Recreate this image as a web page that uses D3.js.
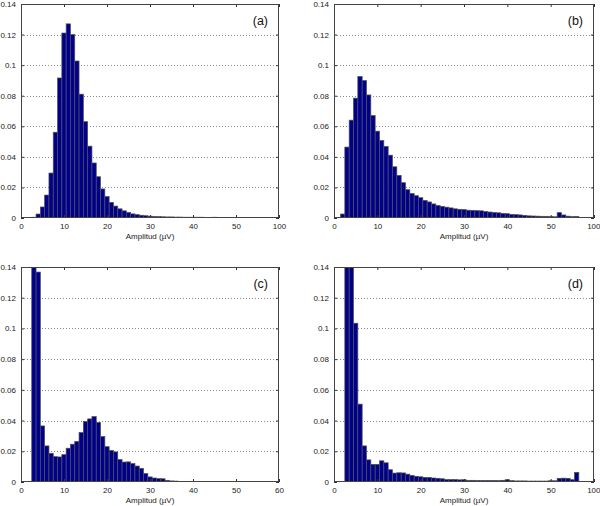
<!DOCTYPE html>
<html>
<head>
<meta charset="utf-8">
<script src="https://cdn.jsdelivr.net/npm/d3@7"></script>
<style>
  body { margin: 0; background: #fff; }
  svg text { font-family: "Liberation Sans", Arial, sans-serif; }
</style>
</head>
<body>
<div id="chart"></div>
<script>
// Histogram values, one per 1-µV bin, first value is bin centre 1
const histA = [0, 0, 0.0005, 0.0026, 0.0072, 0.015, 0.0294, 0.0561, 0.0916, 0.121,
  0.127, 0.120, 0.1027, 0.081, 0.063, 0.047, 0.036, 0.027, 0.019, 0.014,
  0.0102, 0.0078, 0.006, 0.0047, 0.0036, 0.0027, 0.0022, 0.0018, 0.0015, 0.0012,
  0.001, 0.0009, 0.0008, 0.0007, 0.0007, 0.0006, 0.0006, 0.0005, 0.0005, 0.0005,
  0.0005, 0.0005, 0.0004, 0.0004, 0.0005, 0.0004, 0.0004, 0.0004, 0.0004, 0.0004,
  0.0004, 0.0004, 0.0004];

const histB = [0, 0.0026, 0.0464, 0.064, 0.0784, 0.0925, 0.0899, 0.0805, 0.067, 0.0568,
  0.0507, 0.0468, 0.0411, 0.0335, 0.0279, 0.0231, 0.0185, 0.016, 0.0146, 0.0133,
  0.0115, 0.0105, 0.0092, 0.0082, 0.0076, 0.0071, 0.0066, 0.006, 0.0057, 0.0055,
  0.0051, 0.005, 0.0048, 0.0047, 0.0042, 0.0039, 0.0036, 0.0034, 0.003, 0.0028,
  0.0024, 0.0022, 0.002, 0.0017, 0.0014, 0.0013, 0.0012, 0.0011, 0.0011, 0.0009,
  0.0008, 0.0035, 0.002, 0.0012, 0.0009, 0.001];

const histC = [0, 0.0003, 0.16, 0.1367, 0.0365, 0.0235, 0.0187, 0.0165, 0.0163, 0.0178,
  0.022, 0.0246, 0.0264, 0.0322, 0.0394, 0.0411, 0.0426, 0.0388, 0.0296, 0.023,
  0.0206, 0.0196, 0.0146, 0.013, 0.0131, 0.012, 0.0104, 0.0089, 0.0055, 0.0033,
  0.0026, 0.0022, 0.0021, 0.0011, 0.0007, 0.0006];

const histD = [0, 0.0004, 0.2, 0.2, 0.1034, 0.0507, 0.0235, 0.0144, 0.0115, 0.0115,
  0.0138, 0.0125, 0.008, 0.0058, 0.006, 0.0059, 0.0051, 0.0043, 0.0037, 0.0034,
  0.003, 0.003, 0.0026, 0.0024, 0.0021, 0.0016, 0.0016, 0.0016, 0.0014, 0.0015,
  0.0011, 0.0011, 0.001, 0.001, 0.001, 0.001, 0.001, 0.0009, 0.0011, 0.0015,
  0.0009, 0.0007, 0.0007, 0.0007, 0.0006, 0.0006, 0.0006, 0.0006, 0.0006, 0.0008,
  0.0008, 0.0024, 0.0025, 0.0024, 0.0015, 0.0063];

const xTicks = [0, 10, 20, 30, 40, 50, 60];
const xLabelsStd = ["0", "10", "20", "30", "40", "50", "100"];
const xLabelsC = ["0", "10", "20", "30", "40", "50", "60"];
const yTicks = [0, 0.02, 0.04, 0.06, 0.08, 0.1, 0.12, 0.14];
const yLabels = ["0", "0.02", "0.04", "0.06", "0.08", "0.1", "0.12", "0.14"];
const gridTicks = [0.02, 0.04, 0.06, 0.08, 0.1, 0.12];

const panels = [
  {id: "a", data: histA, xLabels: xLabelsStd, left: 21, right: 279, top: 4, bottom: 218},
  {id: "b", data: histB, xLabels: xLabelsStd, left: 334, right: 594, top: 4, bottom: 218},
  {id: "c", data: histC, xLabels: xLabelsC, left: 21, right: 279, top: 267, bottom: 482},
  {id: "d", data: histD, xLabels: xLabelsStd, left: 334, right: 594, top: 267, bottom: 482}
];

const svg = d3.select("#chart")
  .append("svg")
  .attr("width", 600)
  .attr("height", 506);

const defs = svg.append("defs");

panels.forEach(p => {
  const x = d3.scaleLinear().domain([0, 60]).range([p.left, p.right]);
  const y = d3.scaleLinear().domain([0, 0.14]).range([p.bottom, p.top]);
  const g = svg.append("g");

  defs.append("clipPath")
    .attr("id", "clip-" + p.id)
    .append("rect")
    .attr("x", p.left)
    .attr("y", p.top)
    .attr("width", p.right - p.left)
    .attr("height", p.bottom - p.top);

  // dotted grid
  g.selectAll(".grid")
    .data(gridTicks)
    .join("line")
    .attr("x1", p.left)
    .attr("x2", p.right)
    .attr("y1", d => Math.round(y(d)) + 0.5)
    .attr("y2", d => Math.round(y(d)) + 0.5)
    .attr("stroke", "#8a8a8a")
    .attr("stroke-width", 1)
    .attr("stroke-dasharray", "1,2");

  // bars
  g.append("g")
    .attr("clip-path", "url(#clip-" + p.id + ")")
    .selectAll("rect")
    .data(p.data)
    .join("rect")
    .attr("x", (d, i) => x(i + 0.5))
    .attr("width", (d, i) => x(i + 1.5) - x(i + 0.5))
    .attr("y", d => y(d))
    .attr("height", d => y(0) - y(d))
    .attr("fill", "#00008c")
    .attr("stroke", "#505050")
    .attr("stroke-width", 0.7);

  // bottom axis
  const xAxis = d3.axisBottom(x)
    .tickValues(xTicks)
    .tickFormat((d, i) => p.xLabels[i])
    .tickSizeInner(-3)
    .tickSizeOuter(0)
    .tickPadding(5);
  const gx = g.append("g")
    .attr("transform", `translate(0,${p.bottom})`)
    .call(xAxis);

  // top ticks
  const gxt = g.append("g")
    .attr("transform", `translate(0,${p.top})`)
    .call(d3.axisTop(x).tickValues(xTicks).tickFormat("").tickSizeInner(-3).tickSizeOuter(0));

  // left axis
  const gy = g.append("g")
    .attr("transform", `translate(${p.left},0)`)
    .call(d3.axisLeft(y)
      .tickValues(yTicks)
      .tickFormat((d, i) => yLabels[i])
      .tickSizeInner(-3)
      .tickSizeOuter(0)
      .tickPadding(5));

  // right ticks
  const gyr = g.append("g")
    .attr("transform", `translate(${p.right},0)`)
    .call(d3.axisRight(y).tickValues(yTicks).tickFormat("").tickSizeInner(-3).tickSizeOuter(0));

  [gx, gxt, gy, gyr].forEach(a => {
    a.select(".domain").remove();
    a.selectAll(".tick line").attr("stroke", "#333");
    a.selectAll(".tick text")
      .attr("font-size", "8px")
      .attr("fill", "#222");
  });

  // keep the last x label inside the window on the right-hand panels
  if (p.right > 590) {
    gx.selectAll(".tick text")
      .filter((d, i) => i === xTicks.length - 1)
      .attr("text-anchor", "end")
      .attr("dx", "6");
  }

  // frame
  g.append("rect")
    .attr("x", p.left + 0.5)
    .attr("y", p.top + 0.5)
    .attr("width", p.right - p.left - 1)
    .attr("height", p.bottom - p.top - 1)
    .attr("fill", "none")
    .attr("stroke", "#444")
    .attr("stroke-width", 1);

  // x label
  g.append("text")
    .attr("x", (p.left + p.right) / 2)
    .attr("y", p.bottom + 21)
    .attr("text-anchor", "middle")
    .attr("font-size", "8px")
    .attr("fill", "#222")
    .text("Amplitud (µV)");

  // panel letter
  g.append("text")
    .attr("x", p.right - 11)
    .attr("y", p.top + 21)
    .attr("text-anchor", "end")
    .attr("font-size", "12.5px")
    .attr("fill", "#111")
    .text("(" + p.id + ")");
});
</script>
</body>
</html>
